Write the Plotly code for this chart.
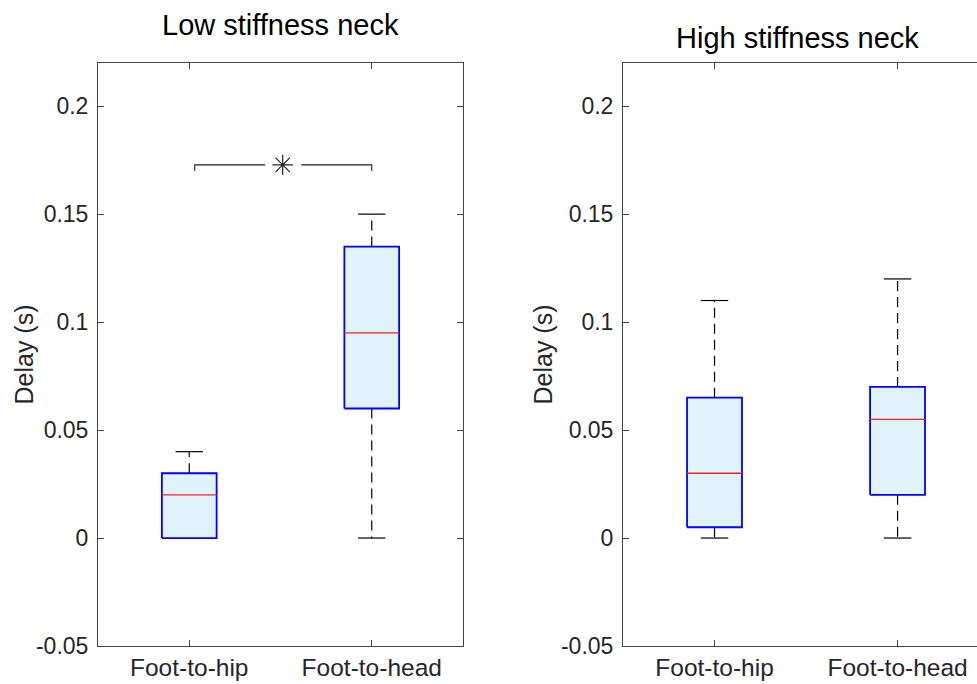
import plotly.graph_objects as go

# ---------------- data ----------------
categories = ["Foot-to-hip", "Foot-to-head"]
panel_titles = ["Low stiffness neck", "High stiffness neck"]
y_title = "Delay (s)"

low_q1 = [0.0, 0.06]
low_median = [0.02, 0.095]
low_q3 = [0.03, 0.135]
low_lower = [0.0, 0.0]
low_upper = [0.04, 0.15]

high_q1 = [0.005, 0.02]
high_median = [0.03, 0.055]
high_q3 = [0.065, 0.07]
high_lower = [0.0, 0.0]
high_upper = [0.11, 0.12]

ytick_vals = [-0.05, 0, 0.05, 0.1, 0.15, 0.2]
ytick_text = ["-0.05", "0", "0.05", "0.1", "0.15", "0.2"]

# significance bracket (low stiffness panel)
sig_y = 0.1728
sig_drop = 0.0028
sig_x_left = 1.03
sig_x_right = 2.0
sig_gap = [1.416, 1.614]
sig_star_x = 1.512

# ---------------- style ----------------
FONT = "Liberation Sans, Arial, Helvetica, sans-serif"
AX = "#444444"
TXT = "#262626"
BOX_HALF = 0.15
CAP_HALF = 0.075

fig = go.Figure()


def add_panel(q1, med, q3, lo, up, xa, ya):
    for i, _ in enumerate(categories):
        c = i + 1
        # whiskers (dashed)
        fig.add_trace(go.Scatter(
            x=[c, c, None, c, c], y=[q3[i], up[i], None, q1[i], lo[i]],
            mode="lines", line=dict(color="black", width=1.2, dash="10px,6px"),
            xaxis=xa, yaxis=ya, hoverinfo="skip"))
        # caps
        fig.add_trace(go.Scatter(
            x=[c - CAP_HALF, c + CAP_HALF, None, c - CAP_HALF, c + CAP_HALF],
            y=[up[i], up[i], None, lo[i], lo[i]],
            mode="lines", line=dict(color="black", width=1.2),
            xaxis=xa, yaxis=ya, hoverinfo="skip"))
        # box
        fig.add_trace(go.Scatter(
            x=[c - BOX_HALF, c + BOX_HALF, c + BOX_HALF, c - BOX_HALF, c - BOX_HALF],
            y=[q1[i], q1[i], q3[i], q3[i], q1[i]],
            mode="lines", fill="toself", fillcolor="#e1f3fa",
            line=dict(color="#0000ff", width=1.8),
            xaxis=xa, yaxis=ya, hoverinfo="skip"))
        # median
        fig.add_trace(go.Scatter(
            x=[c - BOX_HALF, c + BOX_HALF], y=[med[i], med[i]],
            mode="lines", line=dict(color="#ff2020", width=1.3),
            xaxis=xa, yaxis=ya, hoverinfo="skip"))


add_panel(low_q1, low_median, low_q3, low_lower, low_upper, "x", "y")
add_panel(high_q1, high_median, high_q3, high_lower, high_upper, "x2", "y2")

# significance bracket
fig.add_trace(go.Scatter(
    x=[sig_x_left, sig_x_left, sig_gap[0], None, sig_gap[1], sig_x_right, sig_x_right],
    y=[sig_y - sig_drop, sig_y, sig_y, None, sig_y, sig_y, sig_y - sig_drop],
    mode="lines", line=dict(color="#222222", width=1.1),
    xaxis="x", yaxis="y", hoverinfo="skip"))
fig.add_trace(go.Scatter(
    x=[sig_star_x], y=[sig_y], mode="markers",
    marker=dict(symbol="asterisk-open", size=17, color="#222222",
                line=dict(color="#222222", width=1.2)),
    xaxis="x", yaxis="y", hoverinfo="skip"))

W, H = 977, 684
ytop, ybot = 63, 646
common_axis = dict(
    showline=True, linecolor=AX, linewidth=1, ticks="inside", ticklen=6,
    tickcolor=AX, tickwidth=1, showgrid=False, zeroline=False, automargin=False,
)
xfont = dict(tickfont=dict(family=FONT, size=24.5, color=TXT))
yfont = dict(tickfont=dict(family=FONT, size=23, color=TXT), ticklabelstandoff=4)

fig.update_layout(
    width=W, height=H, margin=dict(l=0, r=0, t=0, b=0),
    paper_bgcolor="white", plot_bgcolor="white", showlegend=False,
    xaxis=dict(domain=[98 / W, 463 / W], range=[0.5, 2.5], tickvals=[1, 2],
               ticktext=categories, mirror="ticks", anchor="y", **common_axis, **xfont),
    yaxis=dict(domain=[1 - ybot / H, 1 - ytop / H], range=[-0.05, 0.22],
               tickvals=ytick_vals, ticktext=ytick_text, mirror="ticks",
               anchor="x", **common_axis, **yfont),
    xaxis2=dict(domain=[623 / W, 1.0], range=[0.5, 2.434], tickvals=[1, 2],
                ticktext=categories, mirror="ticks", anchor="y2", **common_axis, **xfont),
    yaxis2=dict(domain=[1 - ybot / H, 1 - ytop / H], range=[-0.05, 0.22],
                tickvals=ytick_vals, ticktext=ytick_text, mirror=False,
                anchor="x2", **common_axis, **yfont),
    annotations=[
        dict(text=panel_titles[0], x=280.5 / W, y=1 - 25 / H, xref="paper", yref="paper",
             showarrow=False, xanchor="center", yanchor="middle",
             font=dict(family=FONT, size=29, color="black")),
        dict(text=panel_titles[1], x=797 / W, y=1 - 38 / H, xref="paper", yref="paper",
             showarrow=False, xanchor="center", yanchor="middle",
             font=dict(family=FONT, size=29, color="black")),
        dict(text=y_title, x=23 / W, y=1 - 354.5 / H, xref="paper", yref="paper",
             showarrow=False, textangle=-90, xanchor="center", yanchor="middle",
             font=dict(family=FONT, size=25, color=TXT)),
        dict(text=y_title, x=542 / W, y=1 - 354.5 / H, xref="paper", yref="paper",
             showarrow=False, textangle=-90, xanchor="center", yanchor="middle",
             font=dict(family=FONT, size=25, color=TXT)),
    ],
)

fig.write_html("out.html")
